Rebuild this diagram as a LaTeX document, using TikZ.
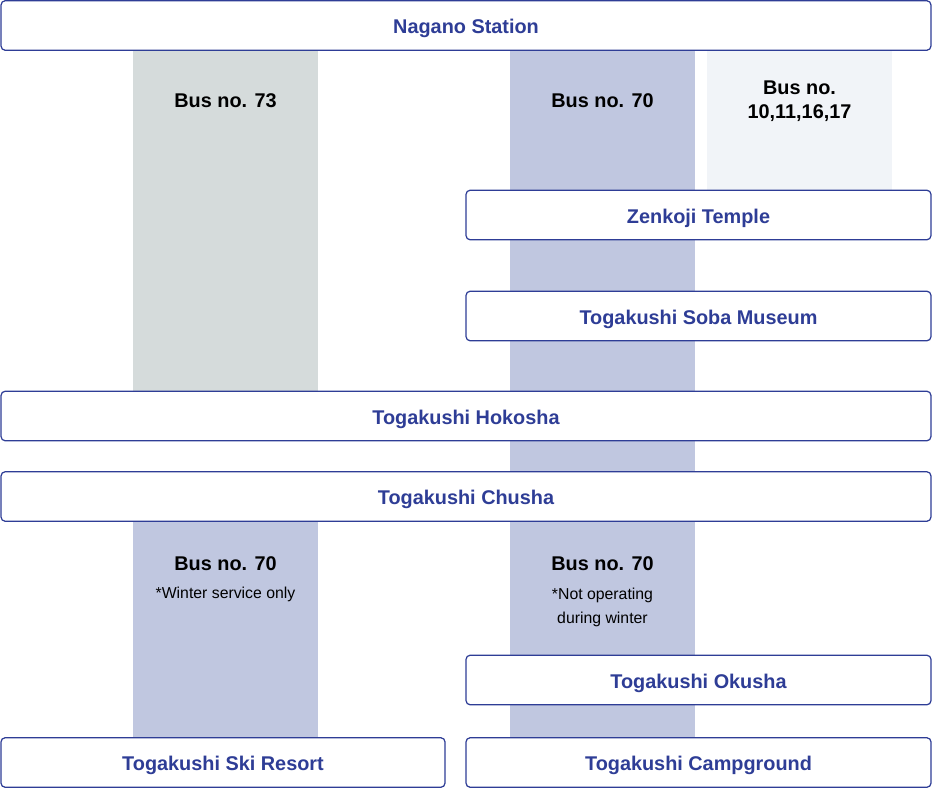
\documentclass[tikz,border=0pt]{standalone}
\usepackage{fontspec}
\setmainfont{Liberation Sans}
\usetikzlibrary{positioning}
\definecolor{routeblue}{HTML}{2E3D96}
\definecolor{busgray}{HTML}{D5DBDB}
\definecolor{buslav}{HTML}{C0C7E0}
\definecolor{buspale}{HTML}{F1F4F8}
\tikzstyle{stop} = [rectangle, rounded corners=2.3pt, minimum height=0.99cm, inner sep=0pt, outer sep=0pt, draw=routeblue, line width=0.7pt, fill=white, text=routeblue, font=\fontsize{11.3}{13.6}\selectfont\bfseries, text height=9.6pt, text depth=0pt, text centered]
\tikzstyle{lane} = [rectangle, minimum width=3.7cm, inner sep=0pt, outer sep=0pt]
\tikzstyle{busno} = [font=\fontsize{11.3}{13.6}\selectfont\bfseries, align=center, text=black]
\tikzstyle{note} = [font=\fontsize{9}{13.6}\selectfont, align=center, text=black]

\begin{document}
\begin{tikzpicture}[x=0.02cm, y=-0.02cm]
			\useasboundingbox (0,0) rectangle (932,788);

			\node (lane73) [lane, fill=busgray, minimum height=6.82cm] at (225.5,220.5) {};
			\node (lane70) [lane, fill=buslav, minimum height=8.44cm] at (602.5,261) {};
			\node (lanecity) [lane, fill=buspale, minimum height=2.8cm] at (799.5,120) {};
			\node (laneski) [lane, fill=buslav, minimum height=4.34cm] at (225.5,629.5) {};
			\node (lanecamp) [lane, fill=buslav, minimum height=4.34cm] at (602.5,629.5) {};

			\node (bus73) [busno] at ([yshift=-1.02cm]lane73.north) {Bus no. 73};
			\node (bus70) [busno] at ([yshift=-1.02cm]lane70.north) {Bus no. 70};
			\node (buscity) [busno] at ([yshift=-1.02cm]lanecity.north) {Bus no.\\10,11,16,17};
			\node (busski) [busno] at ([yshift=-0.85cm]laneski.north) {Bus no. 70};
			\node (noteski) [note] at ([yshift=-1.46cm]laneski.north) {*Winter service only};
			\node (buscamp) [busno] at ([yshift=-0.85cm]lanecamp.north) {Bus no. 70};
			\node (notecamp) [note, anchor=north] at ([yshift=-1.21cm]lanecamp.north) {*Not operating\\during winter};

			\node (nagano) [stop, minimum width=18.6cm] at (466,25.5) {Nagano Station};
			\node (zenkoji) [stop, minimum width=9.3cm] at (698.5,215) {Zenkoji Temple};
			\node (soba) [stop, minimum width=9.3cm] at (698.5,316) {Togakushi Soba Museum};
			\node (hokosha) [stop, minimum width=18.6cm] at (466,416) {Togakushi Hokosha};
			\node (chusha) [stop, minimum width=18.6cm] at (466,496.5) {Togakushi Chusha};
			\node (okusha) [stop, minimum width=9.3cm] at (698.5,680) {Togakushi Okusha};
			\node (skiresort) [stop, minimum width=8.88cm] at (223,762.5) {Togakushi Ski Resort};
			\node (campground) [stop, minimum width=9.3cm] at (698.5,762.5) {Togakushi Campground};
		\end{tikzpicture}
\end{document}
